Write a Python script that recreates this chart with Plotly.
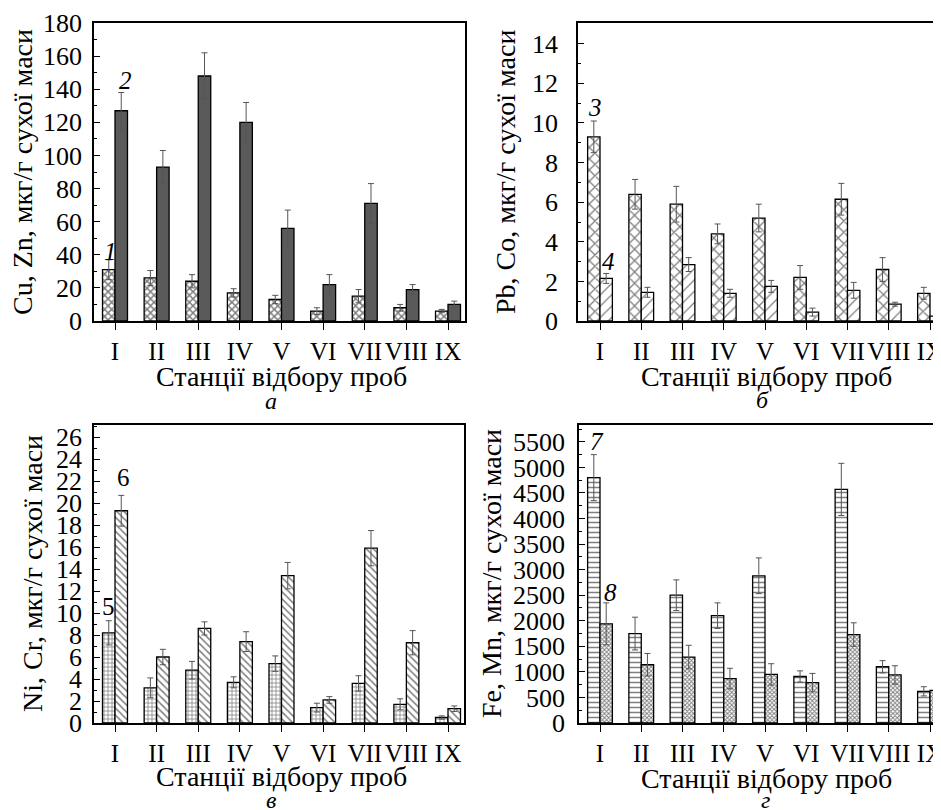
import plotly.graph_objects as go

W, H = 941, 810
OFF = 8  # page body margin: the figure's origin sits 8 px right/down of the window origin

stations = ["I", "II", "III", "IV", "V", "VI", "VII", "VIII", "IX"]

# Panel а: Cu (1), Zn (2)
cu = [31, 26, 24, 17, 13, 6, 15, 8, 6]
cu_err = [6, 4.5, 4, 2.5, 2.5, 2, 4, 2, 1]
zn = [127, 93, 148, 120, 56, 22, 71, 19, 10]
zn_err = [11, 10, 14, 12, 11, 6, 12, 3, 2]

# Panel б: Pb (3), Co (4)
pb = [9.3, 6.4, 5.9, 4.4, 5.2, 2.2, 6.15, 2.6, 1.4]
pb_err = [0.8, 0.75, 0.9, 0.5, 0.7, 0.6, 0.8, 0.6, 0.3]
co = [2.15, 1.45, 2.85, 1.4, 1.75, 0.45, 1.55, 0.85, 0.25]
co_err = [0.25, 0.25, 0.35, 0.2, 0.3, 0.2, 0.4, 0.1, 0.1]

# Panel в: Ni (5), Cr (6)
ni = [8.2, 3.2, 4.8, 3.7, 5.4, 1.4, 3.6, 1.7, 0.5]
ni_err = [1.1, 0.9, 0.8, 0.5, 0.7, 0.4, 0.7, 0.5, 0.15]
cr = [19.3, 6.0, 8.6, 7.4, 13.4, 2.1, 15.9, 7.3, 1.3]
cr_err = [1.4, 0.7, 0.6, 0.9, 1.2, 0.3, 1.6, 1.1, 0.25]

# Panel г: Fe (7), Mn (8)
fe = [4800, 1750, 2500, 2100, 2880, 910, 4570, 1100, 620]
fe_err = [450, 320, 300, 250, 350, 110, 510, 120, 90]
mn = [1940, 1140, 1290, 870, 950, 790, 1730, 940, 640]
mn_err = [410, 220, 230, 200, 210, 180, 230, 180, 190]

x_title = "Станції відбору проб"
y_titles = ["Cu, Zn, мкг/г сухої маси", "Pb, Co, мкг/г сухої маси",
            "Ni, Cr, мкг/г сухої маси", "Fe, Mn, мкг/г сухої маси"]
panel_letters = ["а", "б", "в", "г"]

FONT = "Liberation Serif"
YTICK_SIZE = 26
XTICK_SIZE = 25
TITLE_SIZE = 28
NUM_SIZE = 25
LETTER_SIZE = 24


def px(x, y):
    return (x - OFF) / W, 1 - (y - OFF) / H


def bar(y, err, axis, pattern=None, color="white"):
    marker = dict(color=color, line=dict(color="black", width=1.3))
    if pattern:
        marker["pattern"] = pattern
    return go.Bar(
        x=stations, y=y, xaxis="x" + axis, yaxis="y" + axis,
        marker=marker, showlegend=False,
        error_y=dict(type="data", array=err, color="#555555", thickness=1, width=3),
    )


fig = go.Figure()
fig.add_trace(bar(cu, cu_err, "", dict(shape="x", size=5, solidity=0.5, fgcolor="black", bgcolor="white")))
fig.add_trace(bar(zn, zn_err, "", None, color="#5a5a5a"))
fig.add_trace(bar(pb, pb_err, "2", dict(shape="x", size=8, solidity=0.3, fgcolor="black", bgcolor="white")))
fig.add_trace(bar(co, co_err, "2", dict(shape="/", size=8, solidity=0.15, fgcolor="black", bgcolor="white")))
fig.add_trace(bar(ni, ni_err, "3", dict(shape="+", size=4, solidity=0.35, fgcolor="black", bgcolor="white")))
fig.add_trace(bar(cr, cr_err, "3", dict(shape="\\", size=5, solidity=0.3, fgcolor="black", bgcolor="white")))
fig.add_trace(bar(fe, fe_err, "4", dict(shape="-", size=5, solidity=0.3, fgcolor="black", bgcolor="white")))
fig.add_trace(bar(mn, mn_err, "4", dict(shape="x", size=3, solidity=0.55, fgcolor="black", bgcolor="white")))

# screen-pixel geometry: left, right, top, bottom, x of first tick, x of last tick
panels = [
    (94, 465, 23, 321, 115, 448, [0, 180], 20, 10, True, 5),
    (578, 949, 23, 321, 600, 930, [0, 15.05], 2, 1, False, 13),
    (94, 464, 425, 723, 115, 448, [0, 27.1], 2, 1, True, 5),
    (579, 949, 425, 723, 600, 930, [0, 5830], 500, 250, False, 7),
]

layout = dict(
    width=W, height=H, margin=dict(l=0, r=0, t=0, b=0, autoexpand=False),
    paper_bgcolor="white", plot_bgcolor="white",
    barmode="group", bargap=0.4, bargroupgap=0,
    font=dict(family=FONT, size=YTICK_SIZE, color="black"),
)

for i, (l, r, t, b, x0, x8, yr, dt, mdt, mir, so) in enumerate(panels):
    suffix = "" if i == 0 else str(i + 1)
    sp = (x8 - x0) / 8.0
    xr = [-(x0 - l) / sp, 8 + (r - x8) / sp]
    layout["xaxis" + suffix] = dict(
        domain=[(l - OFF) / W, min((r - OFF) / W, 1.0)], anchor="y" + suffix,
        type="category", range=xr, showline=True, linecolor="black", linewidth=1.5,
        mirror=True, ticks="outside", ticklen=7, tickcolor="black", tickwidth=1.3,
        tickangle=0, showgrid=False, zeroline=False, automargin=False,
        tickfont=dict(family=FONT, size=XTICK_SIZE),
    )
    layout["yaxis" + suffix] = dict(
        domain=[1 - (b - OFF) / H, 1 - (t - OFF) / H], anchor="x" + suffix,
        range=yr, dtick=dt, tick0=0, showline=True, linecolor="black", linewidth=1.5,
        mirror=mir, ticks="inside", ticklen=6, tickcolor="black", tickwidth=1.3,
        minor=dict(dtick=mdt, ticks="inside", ticklen=3, tickcolor="black", tickwidth=1),
        showgrid=False, zeroline=False, ticklabelstandoff=so, automargin=False,
        tickfont=dict(family=FONT, size=YTICK_SIZE),
    )

fig.update_layout(**layout)

annotations = []


def ann(text, x, y, size=TITLE_SIZE, italic=False, angle=0):
    ax, ay = px(x, y)
    t = f"<i>{text}</i>" if italic else text
    annotations.append(dict(text=t, x=ax, y=ay, xref="paper", yref="paper",
                            xanchor="center", yanchor="middle", showarrow=False,
                            textangle=angle, font=dict(family=FONT, size=size, color="black")))


# axis titles
ann(x_title, 281, 377)
ann(x_title, 766, 377)
ann(x_title, 281, 776)
ann(x_title, 766, 778)
ann(y_titles[0], 22, 172, angle=-90)
ann(y_titles[1], 505, 172, angle=-90)
ann(y_titles[2], 32, 574, angle=-90)
ann(y_titles[3], 491, 574, angle=-90)
# panel letters
ann(panel_letters[0], 271, 401, size=LETTER_SIZE, italic=True)
ann(panel_letters[1], 762, 400, size=LETTER_SIZE, italic=True)
ann(panel_letters[2], 271, 800, size=LETTER_SIZE, italic=True)
ann(panel_letters[3], 765, 800, size=LETTER_SIZE, italic=True)
# series numbers
ann("1", 110, 251, size=NUM_SIZE, italic=True)
ann("2", 125, 80, size=NUM_SIZE, italic=True)
ann("3", 595, 107, size=NUM_SIZE, italic=True)
ann("4", 608, 262, size=NUM_SIZE, italic=True)
ann("5", 108, 606, size=NUM_SIZE)
ann("6", 123, 477, size=NUM_SIZE)
ann("7", 597, 441, size=NUM_SIZE, italic=True)
ann("8", 610, 592, size=NUM_SIZE, italic=True)

fig.update_layout(annotations=annotations)
fig.write_html("out.html")
